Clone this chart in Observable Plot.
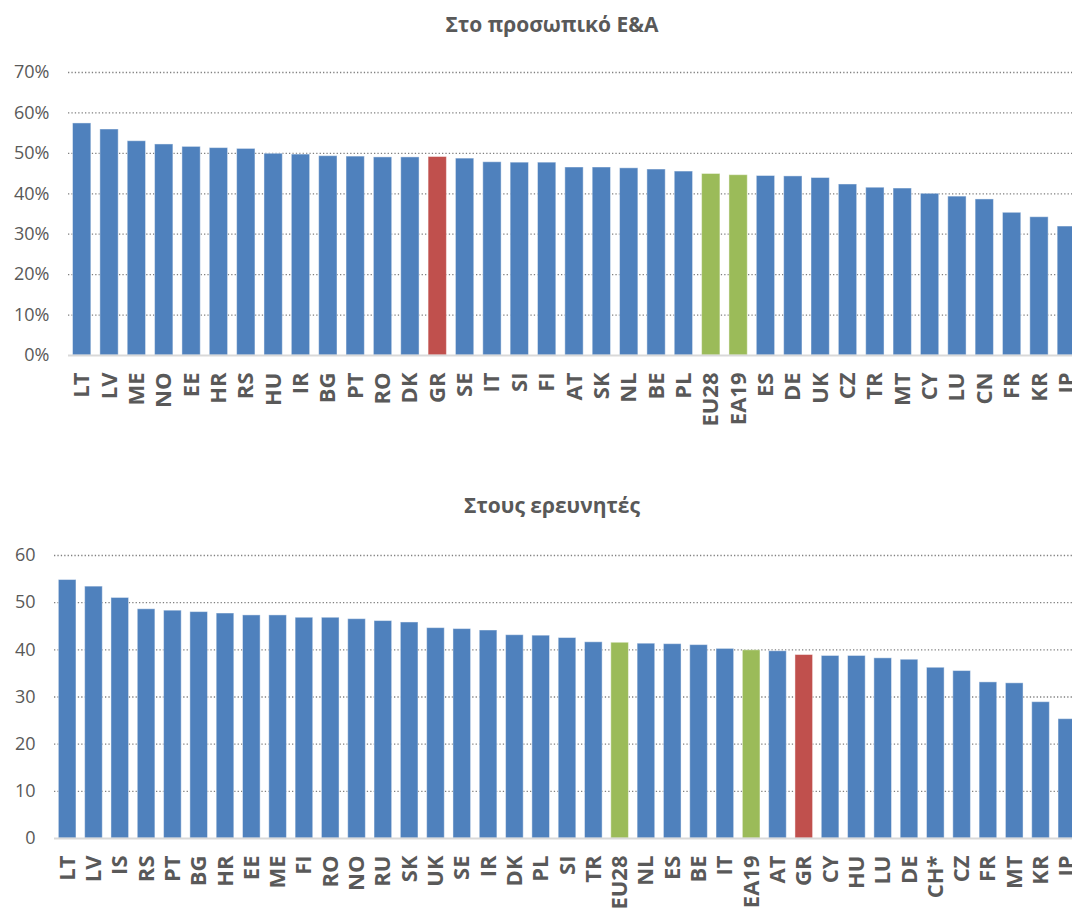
<!DOCTYPE html>
<html><head><meta charset="utf-8">
<script src="https://cdn.jsdelivr.net/npm/d3@7"></script>
<script src="https://cdn.jsdelivr.net/npm/@observablehq/plot@0.6"></script>
<style>
html,body{margin:0;padding:0;overflow:hidden;background:#fff;width:1072px;height:909px}
.title{position:absolute;left:0;width:1104px;text-align:center;font-family:"Open Sans";font-weight:bold;font-size:21px;line-height:21px;color:#595959;white-space:nowrap;z-index:2}
.chart{position:absolute;left:0}
</style></head><body>
<div id="c1" class="chart" style="top:0px"></div>
<div id="c2" class="chart" style="top:480px"></div>
<div class="title" style="top:14px">Στο προσωπικό Ε&amp;Α</div>
<div class="title" style="top:495px">Στους ερευνητές</div>
<script>
// Chart 1: Στο προσωπικό Ε&Α (percent)
const staffCountries = ["LT","LV","ME","NO","EE","HR","RS","HU","IR","BG","PT","RO","DK","GR","SE","IT","SI","FI","AT","SK","NL","BE","PL","EU28","EA19","ES","DE","UK","CZ","TR","MT","CY","LU","CN","FR","KR","JP"];
const staffValues = [57.4,55.9,53.0,52.2,51.6,51.3,51.1,49.9,49.7,49.3,49.2,49.0,49.0,49.1,48.7,47.8,47.7,47.7,46.5,46.5,46.3,46.0,45.5,44.9,44.6,44.4,44.3,43.9,42.3,41.5,41.3,40.0,39.3,38.6,35.3,34.2,31.9];
const staffTicks = [0,10,20,30,40,50,60,70];

// Chart 2: Στους ερευνητές
const researcherCountries = ["LT","LV","IS","RS","PT","BG","HR","EE","ME","FI","RO","NO","RU","SK","UK","SE","IR","DK","PL","SI","TR","EU28","NL","ES","BE","IT","EA19","AT","GR","CY","HU","LU","DE","CH*","CZ","FR","MT","KR","JP"];
const researcherValues = [54.8,53.4,51.0,48.6,48.3,48.0,47.7,47.3,47.3,46.8,46.8,46.5,46.1,45.8,44.6,44.4,44.1,43.1,43.0,42.5,41.6,41.5,41.3,41.2,41.0,40.2,39.9,39.7,38.9,38.7,38.7,38.2,37.9,36.2,35.5,33.1,32.9,28.9,25.3];
const researcherTicks = [0,10,20,30,40,50,60];

const greece = ["GR"];
const aggregates = ["EU28","EA19"];
const colBlue = "#4F81BD", colRed = "#C0504D", colGreen = "#9BBB59";

function colorOf(c){ return greece.includes(c) ? colRed : aggregates.includes(c) ? colGreen : colBlue; }

function chart(cats, vals, o){
  const data = cats.map((c,i)=>({cat:c, v:vals[i], color:colorOf(c)}));
  const svg = Plot.plot({
    width:1080, height:o.height,
    marginLeft:o.ml, marginRight:0, marginTop:o.mt, marginBottom:o.mb,
    style:{fontFamily:"Open Sans", fontSize:"18px", color:"#595959", background:"transparent", overflow:"visible"},
    x:{domain:cats, paddingInner:0.33, paddingOuter:0.165, round:false, axis:null},
    y:{domain:[0, o.ymax], axis:null},
    color:{type:"identity"},
    marks:[
      Plot.gridY(o.ticks.filter(t=>t>0), {stroke:"#808080", strokeOpacity:1, strokeDasharray:"1.3,2.1", strokeWidth:1.3}),
      Plot.axisY(o.ticks, {tickSize:0, tickPadding:19, tickFormat:o.fmt, fontSize:18, fill:"#595959", label:null}),
      Plot.barY(data, {x:"cat", y:"v", fill:"color", stroke:"#ffffff", strokeOpacity:0.45, strokeWidth:1}),
      Plot.ruleY([0], {stroke:"#d9d9d9", strokeWidth:2}),
      Plot.axisX({tickSize:0, tickPadding:17, tickRotate:-90, fontSize:22, fontWeight:"bold", fill:"#595959", label:null})
    ]
  });
  svg.style.maxWidth = "none";
  return svg;
}

document.getElementById("c1").appendChild(chart(staffCountries, staffValues,
  {height:480, ml:68, mt:72, mb:125, ymax:70, ticks:staffTicks, fmt:d=>d+"%"}));
document.getElementById("c2").appendChild(chart(researcherCountries, researcherValues,
  {height:429, ml:54, mt:75, mb:71, ymax:60, ticks:researcherTicks, fmt:d=>String(d)}));
</script>
</body></html>
